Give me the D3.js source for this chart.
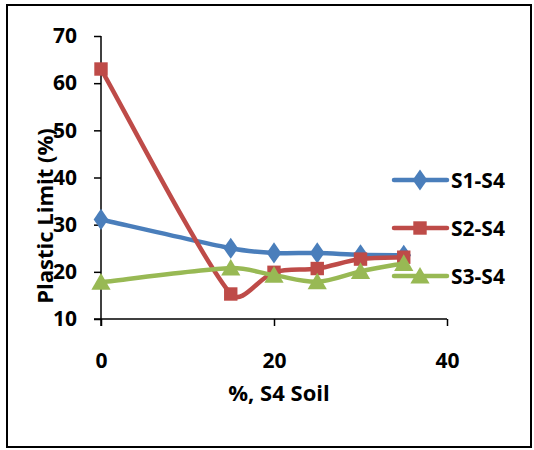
<!DOCTYPE html>
<html>
<head>
<meta charset="utf-8">
<script src="https://cdn.jsdelivr.net/npm/d3@7"></script>
<style>
  body { margin: 0; background: #fff; }
  text { font-family: "Open Sans", Lato, sans-serif; font-weight: 700; fill: #000; }
</style>
</head>
<body>
<div id="chart"></div>
<script>
var xValues = [0, 15, 20, 25, 30, 35];
var s1 = [31.1, 25.0, 24.0, 24.0, 23.6, 23.5];
var s2 = [63.0, 15.3, 19.9, 20.7, 22.7, 23.1];
var s3 = [17.8, 20.8, 19.3, 17.9, 20.1, 21.8];
var seriesNames = ["S1-S4", "S2-S4", "S3-S4"];
var xTicks = [0, 20, 40];
var yTicks = [10, 20, 30, 40, 50, 60, 70];

var W = 534, H = 450;
var svg = d3.select("#chart").append("svg")
    .attr("width", W)
    .attr("height", H);

// outer frame
svg.append("rect")
    .attr("x", 7).attr("y", 5)
    .attr("width", 524).attr("height", 442)
    .attr("fill", "#fff")
    .attr("stroke", "#000")
    .attr("stroke-width", 2);

var x = d3.scaleLinear().domain([0, 40]).range([101, 447]);
var y = d3.scaleLinear().domain([10, 70]).range([319, 36]);

// axes
var yAxis = svg.append("g")
    .attr("transform", "translate(101,0)")
    .call(d3.axisLeft(y).tickValues(yTicks).tickSize(7).tickPadding(17));
var xAxis = svg.append("g")
    .attr("transform", "translate(0,319)")
    .call(d3.axisBottom(x).tickValues(xTicks).tickSize(7).tickPadding(27));
[xAxis, yAxis].forEach(function(g) {
    g.selectAll("path, line").attr("stroke", "#000").attr("stroke-width", 1.5);
    g.selectAll("text").style("font-size", "21px");
});
xAxis.select(".domain").attr("d", "M94,0H447");
yAxis.select(".domain").attr("d", "M0,36V326");

// axis titles
svg.append("text")
    .attr("transform", "translate(53,216) rotate(-90)")
    .attr("text-anchor", "middle")
    .style("font-size", "22px")
    .text("Plastic Limit (%)");
svg.append("text")
    .attr("x", 279).attr("y", 401)
    .attr("text-anchor", "middle")
    .style("font-size", "22px")
    .text("%, S4 Soil");

var colors = ["#4A7EBB", "#BE4B48", "#98B954"];
var shapes = [d3.symbolDiamond, d3.symbolSquare, d3.symbolTriangle];
var sizes = [130, 180, 160];
var data = [s1, s2, s3];

// smoothed line like Excel: bezier with 1/6 tangents, handles limited by segment length
function smoothPath(p) {
    var path = d3.path();
    path.moveTo(p[0][0], p[0][1]);
    for (var i = 0; i < p.length - 1; i++) {
        var p0 = p[Math.max(i - 1, 0)], p1 = p[i], p2 = p[i + 1], p3 = p[Math.min(i + 2, p.length - 1)];
        var seg = Math.hypot(p2[0] - p1[0], p2[1] - p1[1]);
        var t1 = [(p2[0] - p0[0]) / 6, (p2[1] - p0[1]) / 6];
        var t2 = [(p3[0] - p1[0]) / 6, (p3[1] - p1[1]) / 6];
        [t1, t2].forEach(function(t) {
            var l = Math.hypot(t[0], t[1]), m = seg * 0.35;
            if (l > m) { t[0] *= m / l; t[1] *= m / l; }
        });
        path.bezierCurveTo(p1[0] + t1[0], p1[1] + t1[1], p2[0] - t2[0], p2[1] - t2[1], p2[0], p2[1]);
    }
    return path.toString();
}

data.forEach(function(vals, k) {
    var pts = xValues.map(function(v, i) { return { x: v, y: vals[i] }; });
    var g = svg.append("g");
    g.append("path")
        .datum(pts)
        .attr("fill", "none")
        .attr("stroke", colors[k])
        .attr("stroke-width", 4.5)
        .attr("stroke-linejoin", "round")
        .attr("d", function(d) {
            return smoothPath(d.map(function(e) { return [x(e.x), y(e.y)]; }));
        });
    g.selectAll("path.m")
        .data(pts)
        .enter()
        .append("path")
        .attr("class", "m")
        .attr("transform", function(d) {
            var dy = k === 2 ? 2 : 0;
            return "translate(" + x(d.x) + "," + (y(d.y) + dy) + ")" + (k === 0 ? " scale(1.2,1)" : "");
        })
        .attr("fill", colors[k])
        .attr("d", d3.symbol().type(shapes[k]).size(sizes[k]));
});

// legend
var legY = [180, 228, 276];
seriesNames.forEach(function(name, k) {
    var g = svg.append("g").attr("transform", "translate(0," + legY[k] + ")");
    g.append("line")
        .attr("x1", 394).attr("x2", 447)
        .attr("stroke", colors[k])
        .attr("stroke-width", 4.5)
        .attr("stroke-linecap", "round");
    g.append("path")
        .attr("transform", "translate(420," + (k === 2 ? 2 : 0) + ")" + (k === 0 ? " scale(1.2,1)" : ""))
        .attr("fill", colors[k])
        .attr("d", d3.symbol().type(shapes[k]).size(sizes[k]));
    g.append("text")
        .attr("x", 451).attr("y", 8)
        .style("font-size", "21px")
        .text(name);
});
</script>
</body>
</html>
